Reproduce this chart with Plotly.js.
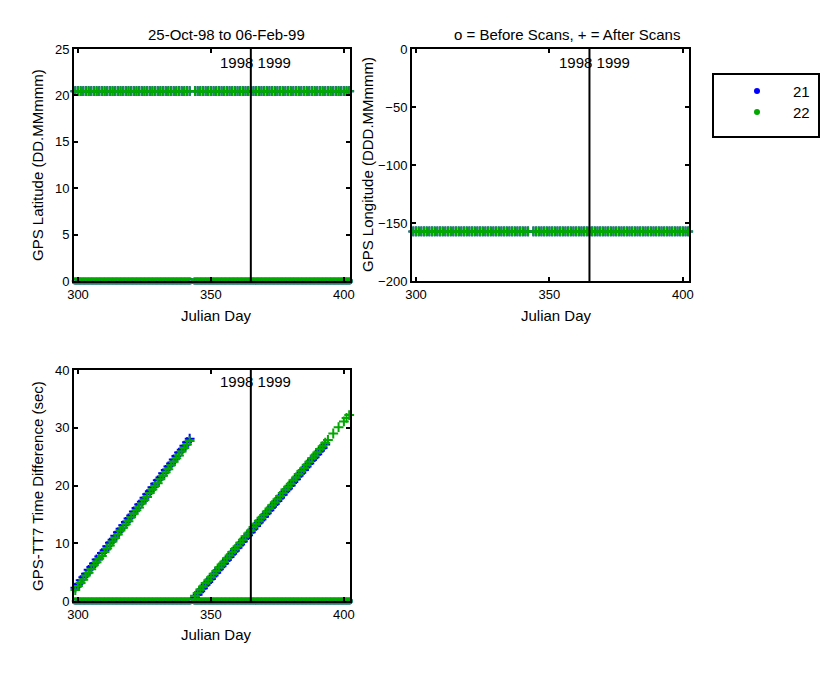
<!DOCTYPE html>
<html>
<head>
<meta charset="utf-8">
<script src="https://cdn.plot.ly/plotly-3.0.1.min.js"></script>
<style>html,body{margin:0;padding:0;background:#fff;}#chart{width:825px;height:675px;}</style>
</head>
<body>
<div id="chart"></div>
<script>
// ---------- data ----------
const seriesNames = ['21', '22'];
const days = [
  298,299,300,301,302,303,304,305,306,307,308,309,310,311,312,313,314,315,316,317,318,319,320,321,322,
  323,324,325,326,327,328,329,330,331,332,333,334,335,336,337,338,339,340,341,342,
  344,345,346,347,348,349,350,351,352,353,354,355,356,357,358,359,360,361,362,363,364,365,366,367,368,
  369,370,371,372,373,374,375,376,377,378,379,380,381,382,383,384,385,386,387,388,389,390,391,392,393,
  394,395,396,397,398,399,400,401,402
];
// "Before scans" values (o) – all zero
const beforeScans = [
  0,0,0,0,0,0,0,0,0,0,0,0,0, 0,0,0,0,0,0,0,0,0,0,0,0,0,
  0,0,0,0,0,0,0,0,0,0,0,0,0, 0,0,0,0,0,0,0,0,0,0,0,0,0,
  0,0,0,0,0,0,0,0,0,0,0,0,0, 0,0,0,0,0,0,0,0,0,0,0,0,0,
  0,0,0,0,0,0,0,0,0,0,0,0,0, 0,0,0,0,0,0,0,0,0,0,0,0,0
];
// GPS latitude after scans (+)
const lat21 = [
  20.45,20.45,20.45,20.45,20.45,20.45,20.45,20.45,20.45,20.45,20.45,20.45,20.45,
  20.45,20.45,20.45,20.45,20.45,20.45,20.45,20.45,20.45,20.45,20.45,20.45,20.45,
  20.45,20.45,20.45,20.45,20.45,20.45,20.45,20.45,20.45,20.45,20.45,20.45,20.45,
  20.45,20.45,20.45,20.45,20.45,20.45,20.45,20.45,20.45,20.45,20.45,20.45,20.45,
  20.45,20.45,20.45,20.45,20.45,20.45,20.45,20.45,20.45,20.45,20.45,20.45,20.45,
  20.45,20.45,20.45,20.45,20.45,20.45,20.45,20.45,20.45,20.45,20.45,20.45,20.45,
  20.45,20.45,20.45,20.45,20.45,20.45,20.45,20.45,20.45,20.45,20.45,20.45,20.45,
  20.45,20.45,20.45,20.45,20.45,20.45,20.45,20.45,20.45,20.45,20.45,20.45,20.45
];
const lat22 = [
  20.45,20.45,20.45,20.45,20.45,20.45,20.45,20.45,20.45,20.45,20.45,20.45,20.45,
  20.45,20.45,20.45,20.45,20.45,20.45,20.45,20.45,20.45,20.45,20.45,20.45,20.45,
  20.45,20.45,20.45,20.45,20.45,20.45,20.45,20.45,20.45,20.45,20.45,20.45,20.45,
  20.45,20.45,20.45,20.45,20.45,20.45,20.45,20.45,20.45,20.45,20.45,20.45,20.45,
  20.45,20.45,20.45,20.45,20.45,20.45,20.45,20.45,20.45,20.45,20.45,20.45,20.45,
  20.45,20.45,20.45,20.45,20.45,20.45,20.45,20.45,20.45,20.45,20.45,20.45,20.45,
  20.45,20.45,20.45,20.45,20.45,20.45,20.45,20.45,20.45,20.45,20.45,20.45,20.45,
  20.45,20.45,20.45,20.45,20.45,20.45,20.45,20.45,20.45,20.45,20.45,20.45,20.45
];
// GPS longitude after scans (+)
const lon21 = [
  -157.3,-157.3,-157.3,-157.3,-157.3,-157.3,-157.3,-157.3,-157.3,-157.3,-157.3,-157.3,-157.3,
  -157.3,-157.3,-157.3,-157.3,-157.3,-157.3,-157.3,-157.3,-157.3,-157.3,-157.3,-157.3,-157.3,
  -157.3,-157.3,-157.3,-157.3,-157.3,-157.3,-157.3,-157.3,-157.3,-157.3,-157.3,-157.3,-157.3,
  -157.3,-157.3,-157.3,-157.3,-157.3,-157.3,-157.3,-157.3,-157.3,-157.3,-157.3,-157.3,-157.3,
  -157.3,-157.3,-157.3,-157.3,-157.3,-157.3,-157.3,-157.3,-157.3,-157.3,-157.3,-157.3,-157.3,
  -157.3,-157.3,-157.3,-157.3,-157.3,-157.3,-157.3,-157.3,-157.3,-157.3,-157.3,-157.3,-157.3,
  -157.3,-157.3,-157.3,-157.3,-157.3,-157.3,-157.3,-157.3,-157.3,-157.3,-157.3,-157.3,-157.3,
  -157.3,-157.3,-157.3,-157.3,-157.3,-157.3,-157.3,-157.3,-157.3,-157.3,-157.3,-157.3,-157.3
];
const lon22 = [
  -157.3,-157.3,-157.3,-157.3,-157.3,-157.3,-157.3,-157.3,-157.3,-157.3,-157.3,-157.3,-157.3,
  -157.3,-157.3,-157.3,-157.3,-157.3,-157.3,-157.3,-157.3,-157.3,-157.3,-157.3,-157.3,-157.3,
  -157.3,-157.3,-157.3,-157.3,-157.3,-157.3,-157.3,-157.3,-157.3,-157.3,-157.3,-157.3,-157.3,
  -157.3,-157.3,-157.3,-157.3,-157.3,-157.3,-157.3,-157.3,-157.3,-157.3,-157.3,-157.3,-157.3,
  -157.3,-157.3,-157.3,-157.3,-157.3,-157.3,-157.3,-157.3,-157.3,-157.3,-157.3,-157.3,-157.3,
  -157.3,-157.3,-157.3,-157.3,-157.3,-157.3,-157.3,-157.3,-157.3,-157.3,-157.3,-157.3,-157.3,
  -157.3,-157.3,-157.3,-157.3,-157.3,-157.3,-157.3,-157.3,-157.3,-157.3,-157.3,-157.3,-157.3,
  -157.3,-157.3,-157.3,-157.3,-157.3,-157.3,-157.3,-157.3,-157.3,-157.3,-157.3,-157.3,-157.3
];
// GPS - TT7 time difference after scans (+), seconds
const tdiff21 = [
  1.7,2.3,2.9,3.6,4.1,4.7,5.4,5.9,6.5,7.2,7.7,8.3,8.8,9.5,10.1,10.6,11.3,11.9,12.5,13.1,13.7,14.3,14.8,15.5,16.1,
  16.7,17.2,17.9,18.5,19.0,19.7,20.3,20.9,21.4,22.1,22.7,23.3,23.8,24.5,25.1,25.7,26.2,26.9,27.5,28.1,
  0.6,1.1,1.7,2.2,2.8,3.3,3.8,4.4,4.9,5.5,6.0,6.5,7.1,7.6,8.2,8.7,9.2,9.8,10.3,10.9,11.4,11.9,12.5,13.0,13.6,
  14.1,14.6,15.2,15.7,16.3,16.8,17.3,17.9,18.4,19.0,19.5,20.0,20.6,21.1,21.7,22.2,22.7,23.3,23.8,24.4,24.9,25.4,26.0,26.5,27.1,
  null,null,null,null,null,null,null,null,null
];
const tdiff22 = [
  1.3,1.9,2.6,3.1,3.7,4.4,4.9,5.5,6.2,6.7,7.3,7.8,8.5,9.1,9.6,10.3,10.9,11.5,12.2,12.7,13.3,13.8,14.5,15.1,15.7,
  16.2,16.9,17.5,18.0,18.7,19.3,19.9,20.4,21.1,21.7,22.3,22.8,23.5,24.1,24.7,25.2,25.9,26.5,27.1,27.7,
  0.9,1.4,2.0,2.5,3.1,3.6,4.1,4.7,5.2,5.8,6.3,6.8,7.4,7.9,8.5,9.0,9.5,10.1,10.6,11.2,11.7,12.2,12.8,13.3,13.9,
  14.4,14.9,15.5,16.0,16.6,17.1,17.6,18.2,18.7,19.3,19.8,20.3,20.9,21.4,22.0,22.5,23.0,23.6,24.1,24.7,25.2,25.7,26.3,26.8,27.4,
  27.9,null,29.0,null,30.1,null,31.1,31.7,32.2
];
const xTicks = [300, 350, 400];
const latTicks = [0, 5, 10, 15, 20, 25];
const lonTicks = [-200, -150, -100, -50, 0];
const tdTicks = [0, 10, 20, 30, 40];
const yearBoundary = 365;

// ---------- styling ----------
const W = 825, H = 675;
const FONT = 'Liberation Sans, Arial, sans-serif';
const BLUE = '#0000ff', GREEN = '#00a800';
const px = x => x / W;
const py = y => 1 - y / H;

function plusTrace(x, y, color, xa, ya, name, show) {
  return {x: x, y: y, xaxis: xa, yaxis: ya, type: 'scatter', mode: 'markers', name: name, showlegend: false,
    cliponaxis: false, hoverinfo: 'skip',
    marker: {symbol: 'cross-thin-open', size: 7, color: color, line: {color: color, width: 2}}};
}
function circTrace(x, y, color, xa, ya, name) {
  return {x: x, y: y, xaxis: xa, yaxis: ya, type: 'scatter', mode: 'markers', name: name, showlegend: false,
    cliponaxis: false, hoverinfo: 'skip',
    marker: {symbol: 'circle-open', size: 5, color: color, line: {color: color, width: 2}}};
}

const traces = [
  // top-left: latitude
  circTrace(days, beforeScans, BLUE, 'x', 'y', seriesNames[0]),
  plusTrace(days, lat21, BLUE, 'x', 'y', seriesNames[0]),
  circTrace(days, beforeScans, GREEN, 'x', 'y', seriesNames[1]),
  plusTrace(days, lat22, GREEN, 'x', 'y', seriesNames[1]),
  // top-right: longitude
  plusTrace(days, lon21, BLUE, 'x2', 'y2', seriesNames[0]),
  plusTrace(days, lon22, GREEN, 'x2', 'y2', seriesNames[1]),
  // bottom-left: time difference
  circTrace(days, beforeScans, BLUE, 'x3', 'y3', seriesNames[0]),
  plusTrace(days, tdiff21, BLUE, 'x3', 'y3', seriesNames[0]),
  circTrace(days, beforeScans, GREEN, 'x3', 'y3', seriesNames[1]),
  plusTrace(days, tdiff22, GREEN, 'x3', 'y3', seriesNames[1])
];

function axisBase(extra) {
  return Object.assign({
    showline: true, linecolor: '#000', linewidth: 2, mirror: 'ticks',
    ticks: 'inside', ticklen: 4, tickwidth: 2, tickcolor: '#000',
    showgrid: false, zeroline: false, fixedrange: true,
    tickfont: {family: FONT, size: 13, color: '#000'}
  }, extra);
}
const xr = [298.5, 402.3];
const layout = {
  width: W, height: H, margin: {l: 0, r: 0, t: 0, b: 0},
  paper_bgcolor: '#fff', plot_bgcolor: '#fff', showlegend: false,
  font: {family: FONT, size: 15, color: '#000'},
  xaxis: axisBase({domain: [px(74), px(350)], range: xr, tickvals: xTicks, anchor: 'y'}),
  yaxis: axisBase({domain: [py(281), py(49)], range: [0, 25], tickvals: latTicks, anchor: 'x'}),
  xaxis2: axisBase({domain: [px(412), px(689)], range: xr, tickvals: xTicks, anchor: 'y2'}),
  yaxis2: axisBase({domain: [py(281), py(49)], range: [-200, 0], tickvals: lonTicks, anchor: 'x2'}),
  xaxis3: axisBase({domain: [px(74), px(350)], range: xr, tickvals: xTicks, anchor: 'y3'}),
  yaxis3: axisBase({domain: [py(601), py(370)], range: [0, 40], tickvals: tdTicks, anchor: 'x3'}),
  shapes: [
    {type: 'line', xref: 'x', yref: 'y domain', x0: yearBoundary, x1: yearBoundary, y0: 0, y1: 1, line: {color: '#000', width: 2}},
    {type: 'line', xref: 'x2', yref: 'y2 domain', x0: yearBoundary, x1: yearBoundary, y0: 0, y1: 1, line: {color: '#000', width: 2}},
    {type: 'line', xref: 'x3', yref: 'y3 domain', x0: yearBoundary, x1: yearBoundary, y0: 0, y1: 1, line: {color: '#000', width: 2}},
    // legend box
    {type: 'rect', xref: 'paper', yref: 'paper', x0: px(713), x1: px(819), y0: py(137), y1: py(74), line: {color: '#000', width: 2}, fillcolor: '#fff'},
    {type: 'circle', xref: 'paper', yref: 'paper', x0: px(754), x1: px(760), y0: py(94), y1: py(88), line: {width: 0}, fillcolor: BLUE},
    {type: 'circle', xref: 'paper', yref: 'paper', x0: px(754), x1: px(760), y0: py(115), y1: py(109), line: {width: 0}, fillcolor: GREEN}
  ],
  annotations: [
    {text: '25-Oct-98 to 06-Feb-99', xref: 'paper', yref: 'paper', x: px(226), y: py(35), xanchor: 'center', yanchor: 'middle', showarrow: false},
    {text: 'o = Before Scans, + = After Scans', xref: 'paper', yref: 'paper', x: px(567), y: py(35), xanchor: 'center', yanchor: 'middle', showarrow: false},
    {text: 'GPS Latitude (DD.MMmmm)', xref: 'paper', yref: 'paper', x: px(37), y: py(165), textangle: -90, xanchor: 'center', yanchor: 'middle', showarrow: false},
    {text: 'GPS Longitude (DDD.MMmmm)', xref: 'paper', yref: 'paper', x: px(367), y: py(165), textangle: -90, xanchor: 'center', yanchor: 'middle', showarrow: false},
    {text: 'GPS-TT7 Time Difference (sec)', xref: 'paper', yref: 'paper', x: px(37), y: py(486), textangle: -90, xanchor: 'center', yanchor: 'middle', showarrow: false},
    {text: 'Julian Day', xref: 'paper', yref: 'paper', x: px(217), y: py(315), xanchor: 'center', yanchor: 'middle', showarrow: false},
    {text: 'Julian Day', xref: 'paper', yref: 'paper', x: px(556), y: py(315), xanchor: 'center', yanchor: 'middle', showarrow: false},
    {text: 'Julian Day', xref: 'paper', yref: 'paper', x: px(217), y: py(634), xanchor: 'center', yanchor: 'middle', showarrow: false},
    {text: '1998 1999', xref: 'x', yref: 'paper', x: yearBoundary, xshift: 5, y: py(62), xanchor: 'center', yanchor: 'middle', showarrow: false},
    {text: '1998 1999', xref: 'x2', yref: 'paper', x: yearBoundary, xshift: 5, y: py(62), xanchor: 'center', yanchor: 'middle', showarrow: false},
    {text: '1998 1999', xref: 'x3', yref: 'paper', x: yearBoundary, xshift: 5, y: py(381), xanchor: 'center', yanchor: 'middle', showarrow: false},
    {text: seriesNames[0], xref: 'paper', yref: 'paper', x: px(812), y: py(91), xanchor: 'right', yanchor: 'middle', showarrow: false},
    {text: seriesNames[1], xref: 'paper', yref: 'paper', x: px(812), y: py(112), xanchor: 'right', yanchor: 'middle', showarrow: false}
  ]
};
Plotly.newPlot('chart', traces, layout, {staticPlot: true, displayModeBar: false});
</script>
</body>
</html>
